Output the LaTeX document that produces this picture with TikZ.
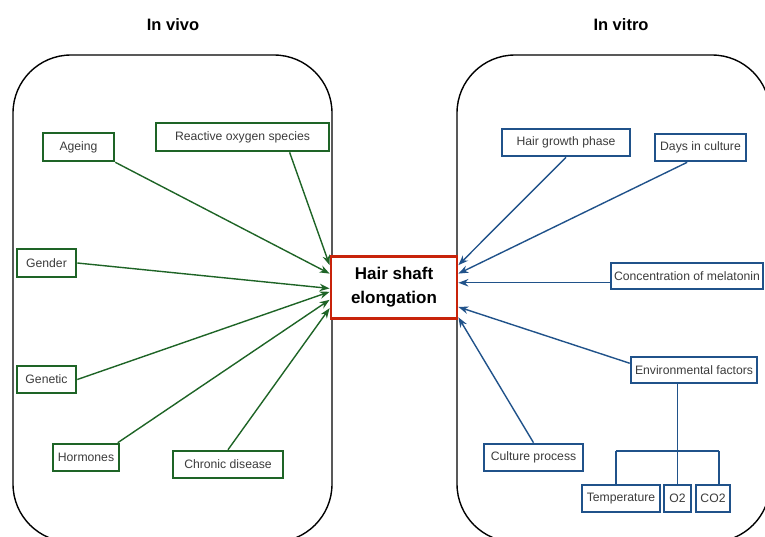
\documentclass[tikz,border=0pt]{standalone}
\usepackage{fontspec}
\setmainfont{Liberation Sans}
\usetikzlibrary{arrows.meta}
\definecolor{vivo}{RGB}{30,100,38}
\definecolor{vitro}{RGB}{32,82,138}
\definecolor{hairred}{RGB}{200,35,10}
\definecolor{txt}{RGB}{60,60,60}
\begin{document}
\begin{tikzpicture}[x=1pt,y=-1pt,
  lbl/.style={draw, line width=2.6pt, fill=white, inner sep=0pt, align=center,
    text=txt, font=\fontsize{12.2}{14}\selectfont},
  gbox/.style={lbl, draw=vivo},
  bbox/.style={lbl, draw=vitro},
  ttl/.style={font=\fontsize{16.5}{19}\selectfont\bfseries},
  container/.style={draw=black, line width=1.4pt, rounded corners=58pt},
  garr/.style={draw=vivo, line width=1.4pt, -{Stealth[length=10pt,width=7.5pt]}},
  barr/.style={draw=vitro, line width=1.4pt, -{Stealth[length=10pt,width=7.5pt]}},
  bline/.style={draw=vitro, line width=1.4pt}]
\useasboundingbox (0,0) rectangle (765,536);
% containers
\draw[container] (13,55) rectangle (332,542);
\draw[container] (457,55) rectangle (770,542);
% titles
\node[ttl] (tvivo) at (173,25) {In vivo};
\node[ttl] (tvitro) at (621,25) {In vitro};
% centre
\node[draw=hairred, line width=2.8pt, fill=white, minimum width=126pt, minimum height=62pt,
  inner sep=0pt, align=center, font=\fontsize{17}{24}\selectfont\bfseries]
  (hair) at (394,287.3) {Hair shaft\\elongation};
% in vivo
\node[gbox, minimum width=71pt, minimum height=28pt] (ageing) at (78.5,147) {Ageing};
\node[gbox, minimum width=173pt, minimum height=28pt] (ros) at (242.5,137) {Reactive oxygen species};
\node[gbox, minimum width=59pt, minimum height=28pt] (gender) at (46.5,263) {Gender};
\node[gbox, minimum width=59pt, minimum height=27pt] (genetic) at (46.5,379.5) {Genetic};
\node[gbox, minimum width=66pt, minimum height=27pt] (hormones) at (86,457.5) {Hormones};
\node[gbox, minimum width=110pt, minimum height=27pt] (chronic) at (228,464.5) {Chronic disease};
% in vitro
\node[bbox, minimum width=128pt, minimum height=27pt] (hgp) at (566,142.5) {Hair growth phase};
\node[bbox, minimum width=91pt, minimum height=27pt] (days) at (700.5,147.5) {Days in culture};
\node[bbox, minimum width=152pt, minimum height=26pt] (mel) at (687,276) {Concentration of melatonin};
\node[bbox, minimum width=126pt, minimum height=26pt] (ef) at (694,370) {Environmental factors};
\node[bbox, minimum width=99pt, minimum height=27pt] (culture) at (533.5,457.5) {Culture process};
\node[bbox, minimum width=78pt, minimum height=27pt] (temp) at (621,498.5) {Temperature};
\node[bbox, minimum width=27pt, minimum height=27pt] (o2) at (677.5,498.5) {O2};
\node[bbox, minimum width=34pt, minimum height=27pt] (co2) at (713,498.5) {CO2};
% green arrows
\draw[garr] (ros.-18) -- (hair.161);
\draw[garr] (ageing.south east) -- (hair.168);
\draw[garr] (gender.east) -- (hair.181);
\draw[garr] (genetic.east) -- (hair.184.5);
\draw[garr] (hormones.25) -- (hair.191);
\draw[garr] (chronic.north) -- (hair.198.5);
% blue arrows
\draw[barr] (hgp.south) -- (hair.19);
\draw[barr] (days.228) -- (hair.12.5);
\draw[barr] (mel.185) -- (mel.185 -| hair.east);
\draw[barr] (ef.174) -- (hair.343);
\draw[barr] (culture.north) -- (hair.335);
% bracket
\coordinate (bl) at (616,451);
\coordinate (br) at (719,451);
\draw[bline] (o2.north |- ef.south) -- (o2.north);
\draw[bline] (bl) -- (br);
\draw[bline] (bl) -- (bl |- temp.north);
\draw[bline] (br) -- (br |- co2.north);
\end{tikzpicture}
\end{document}
